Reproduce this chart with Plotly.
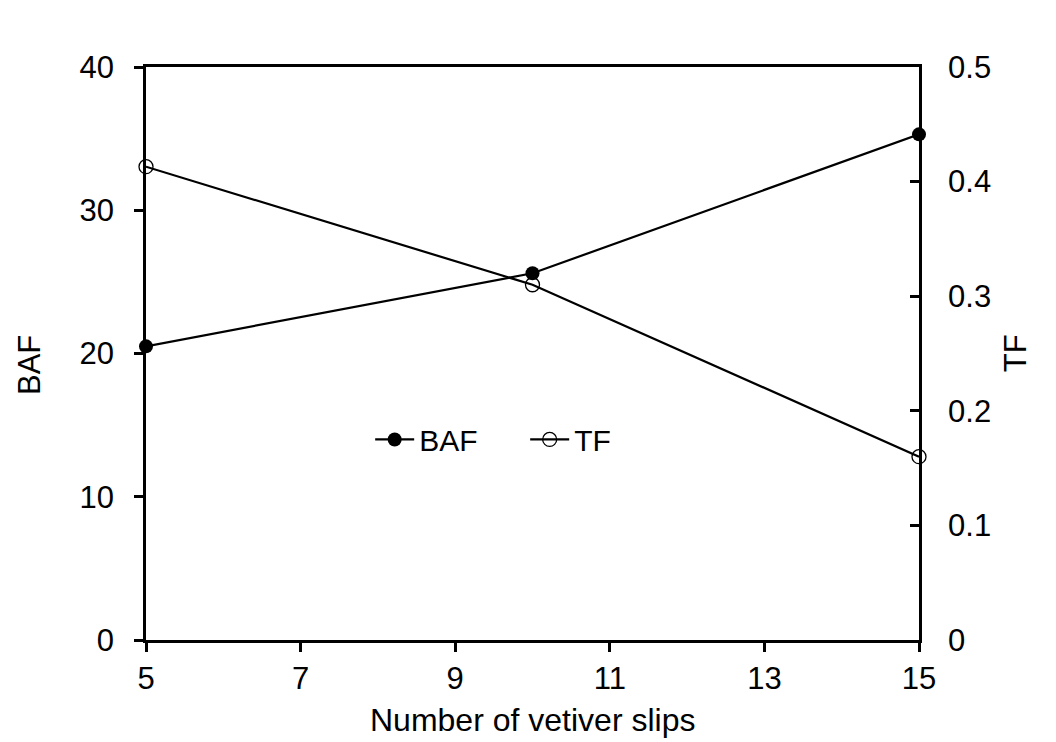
import plotly.graph_objects as go

# Bioaccumulation (BAF) and translocation (TF) factors vs. number of vetiver slips
slips = [5, 10, 15]
baf = [20.5, 25.6, 35.3]
tf = [0.413, 0.310, 0.160]

x_ticks = [5, 7, 9, 11, 13, 15]
baf_ticks = [0, 10, 20, 30, 40]
tf_ticks = [0, 0.1, 0.2, 0.3, 0.4, 0.5]
tf_tick_labels = ["0", "0.1", "0.2", "0.3", "0.4", "0.5"]

FONT = "Liberation Sans, Arial, sans-serif"
FS = 31

fig = go.Figure()
fig.add_trace(go.Scatter(
    x=slips, y=baf, name="BAF", mode="lines+markers",
    line=dict(color="black", width=2.2),
    marker=dict(symbol="circle", size=14, color="black"),
    cliponaxis=False,
))
fig.add_trace(go.Scatter(
    x=slips, y=tf, name="TF", mode="lines+markers", yaxis="y2",
    line=dict(color="black", width=2.2),
    marker=dict(symbol="circle-open", size=14, color="black", line=dict(width=1.3)),
    cliponaxis=False,
))

axis_common = dict(
    showgrid=False, zeroline=False, showline=True, linecolor="black",
    linewidth=2.8, tickcolor="black", tickwidth=2.5, ticklen=9,
    automargin=False,
    tickfont=dict(size=FS, color="black", family=FONT),
)

fig.update_layout(
    width=1056, height=742,
    margin=dict(l=146, r=137, t=67, b=102),
    paper_bgcolor="white", plot_bgcolor="white",
    font=dict(family=FONT, color="black", size=FS),
    showlegend=True,
    legend=dict(
        x=0.29, y=0.35, xanchor="left", yanchor="middle",
        orientation="h", bgcolor="rgba(0,0,0,0)",
        font=dict(size=30, family=FONT, color="black"),
        itemwidth=39, entrywidth=101, entrywidthmode="pixels",
    ),
    xaxis=dict(
        **axis_common, range=[5, 15], tickvals=x_ticks, ticks="outside",
        mirror=True, ticklabelstandoff=0,
    ),
    yaxis=dict(
        **axis_common, range=[0, 40], tickvals=baf_ticks, ticks="outside",
        ticklabelstandoff=14,
    ),
    yaxis2=dict(
        **axis_common, range=[0, 0.5], tickvals=tf_ticks, ticktext=tf_tick_labels,
        ticks="inside", overlaying="y", side="right", ticklabelstandoff=20,
    ),
    annotations=[
        dict(text="Number of vetiver slips", xref="paper", yref="paper",
             x=0.5, y=-0.14, xanchor="center", yanchor="middle",
             showarrow=False, font=dict(size=32)),
        dict(text="BAF", xref="paper", yref="paper", textangle=-90,
             x=-0.15, y=0.48, xanchor="center", yanchor="middle",
             showarrow=False, font=dict(size=FS)),
        dict(text="TF", xref="paper", yref="paper", textangle=-90,
             x=1.125, y=0.5, xanchor="center", yanchor="middle",
             showarrow=False, font=dict(size=FS)),
    ],
)

fig.write_html("out.html")
